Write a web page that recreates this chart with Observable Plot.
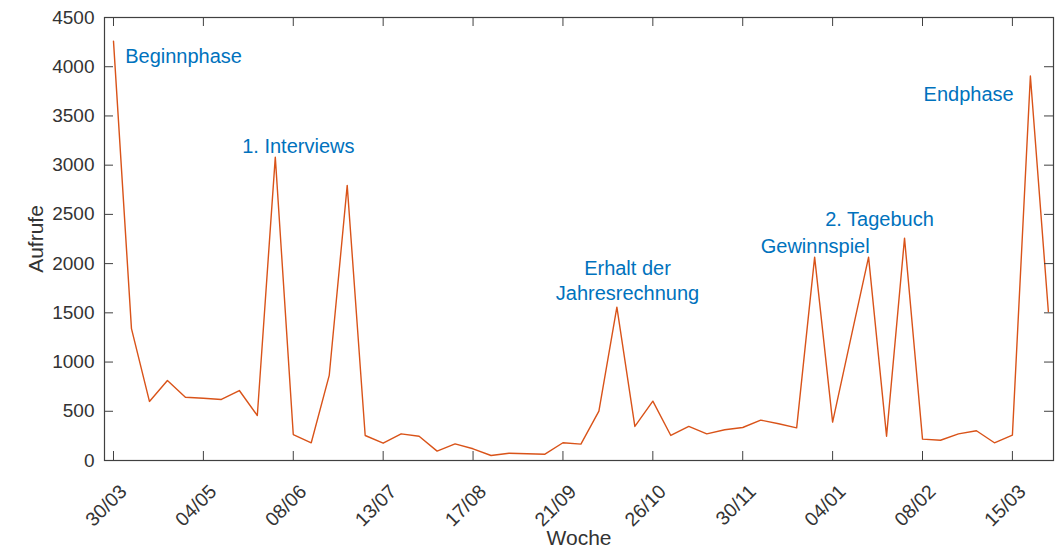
<!DOCTYPE html>
<html>
<head>
<meta charset="utf-8">
<script src="https://cdn.jsdelivr.net/npm/d3@7"></script>
<script src="https://cdn.jsdelivr.net/npm/@observablehq/plot@0.6"></script>
<style>
  html, body { margin: 0; padding: 0; background: #ffffff; }
  #chart svg { display: block; }
</style>
</head>
<body>
<div id="chart"></div>
<script>
// Week start dates (categories)
const weeks = [
  "30/03","06/04","13/04","20/04","27/04","04/05","11/05","18/05","25/05","01/06",
  "08/06","15/06","22/06","29/06","06/07","13/07","20/07","27/07","03/08","10/08",
  "17/08","24/08","31/08","07/09","14/09","21/09","28/09","05/10","12/10","19/10",
  "26/10","02/11","09/11","16/11","23/11","30/11","07/12","14/12","21/12","28/12",
  "04/01","11/01","18/01","25/01","01/02","08/02","15/02","22/02","01/03","08/03",
  "15/03","22/03","29/03"
];

// Aufrufe per week
const aufrufe = [
  4260, 1340, 600, 813, 643, 633, 620, 711, 457, 3082,
  264, 180, 864, 2795, 254, 176, 271, 247, 95, 169,
  119, 51, 74, 68, 64, 180, 166, 501, 1558, 346,
  603, 254, 346, 271, 312, 335, 410, 373, 332, 2066,
  390, 1230, 2066, 247, 2259, 217, 206, 271, 302, 180,
  257, 3906, 1514
];

// Tick positions (week index) and y tick values
const xTickWeeks = [0, 5, 10, 15, 20, 25, 30, 35, 40, 45, 50];
const yTicks = [0, 500, 1000, 1500, 2000, 2500, 3000, 3500, 4000, 4500];

// Annotations
const annotationLabels  = ["Beginnphase", "1. Interviews", "Erhalt der\nJahresrechnung", "Gewinnspiel", "2. Tagebuch", "Endphase"];
const annotationWeeks   = [0.65, 10.28, 28.59, 39.03, 42.61, 50.07];
const annotationValues  = [4116, 3201, 1834, 2185, 2459, 3730];
const annotationAnchors = ["start", "middle", "middle", "middle", "middle", "end"];

const data = weeks.map((w, i) => ({ i, week: w, value: aufrufe[i] }));
const notes = annotationLabels.map((label, k) => ({
  label, week: annotationWeeks[k], value: annotationValues[k], anchor: annotationAnchors[k]
}));

const W = 1059, H = 549;
const mt = 17, mb = 89, ml = 104, mr = 6;
const innerW = W - ml - mr, innerH = H - mt - mb;
const TICK = 9;
const axisColor = "#333333";
const frameColor = "#404040";
const noteColor = "#0072BD";

const noteMark = (anchor) => Plot.text(notes.filter(d => d.anchor === anchor), {
  x: "week", y: "value", text: "label", textAnchor: anchor,
  fill: noteColor, fontSize: 20, lineHeight: 1.25
});

const chart = Plot.plot({
  width: W, height: H,
  marginTop: mt, marginBottom: mb, marginLeft: ml, marginRight: mr,
  style: { fontFamily: "'Liberation Sans', Arial, Helvetica, sans-serif", fontSize: "19px", color: axisColor, background: "#ffffff" },
  x: { type: "linear", domain: [-0.5, 52.286] },
  y: { type: "linear", domain: [0, 4500] },
  marks: [
    Plot.line(data, { x: "i", y: "value", stroke: "#D95319", strokeWidth: 1.4 }),
    noteMark("start"),
    noteMark("middle"),
    noteMark("end"),
    // inward ticks, MATLAB style (bottom/top/left/right)
    Plot.tickX(xTickWeeks, { x: d => d, insetTop: innerH - TICK, stroke: frameColor }),
    Plot.tickX(xTickWeeks, { x: d => d, insetBottom: innerH - TICK, stroke: frameColor }),
    Plot.tickY(yTicks, { y: d => d, insetRight: innerW - TICK, stroke: frameColor }),
    Plot.tickY(yTicks, { y: d => d, insetLeft: innerW - TICK, stroke: frameColor }),
    Plot.frame({ stroke: frameColor, strokeWidth: 1.2 }),
    Plot.axisX(xTickWeeks, {
      tickSize: 0, tickPadding: 28, tickRotate: -45, dx: 10,
      tickFormat: i => weeks[i], label: null, fontSize: 19.5, fill: axisColor
    }),
    Plot.axisY(yTicks, {
      tickSize: 0, tickPadding: 10, label: null, fontSize: 19, fill: axisColor,
      tickFormat: d => String(d)
    }),
    Plot.text(["Woche"], { frameAnchor: "bottom", dy: 78, lineAnchor: "middle", text: d => d, fontSize: 21, fill: axisColor }),
    Plot.text(["Aufrufe"], { frameAnchor: "left", dx: -68, rotate: -90, textAnchor: "middle", lineAnchor: "middle", text: d => d, fontSize: 21, fill: axisColor })
  ]
});

document.getElementById("chart").appendChild(chart);
</script>
</body>
</html>
